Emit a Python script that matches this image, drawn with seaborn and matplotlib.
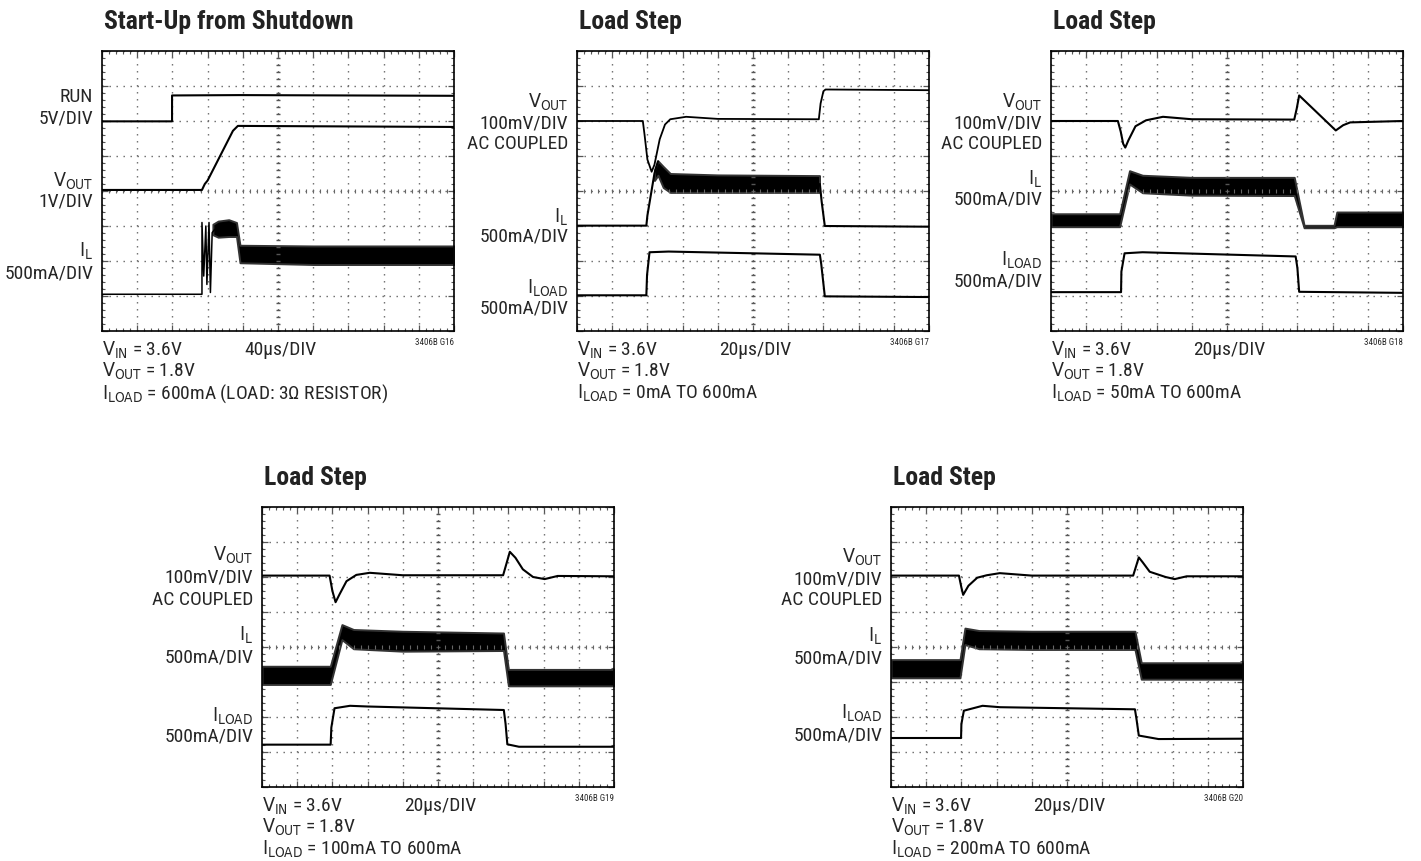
import matplotlib.pyplot as plt
import seaborn as sns
import pandas as pd
import numpy as np

# ---- data (scope divisions: x 0..10, y 0..8 from bottom) ----
titles = ["Start-Up from Shutdown", "Load Step", "Load Step", "Load Step", "Load Step"]
time_div = ["40\u03bcs/DIV", "20\u03bcs/DIV", "20\u03bcs/DIV", "20\u03bcs/DIV", "20\u03bcs/DIV"]
fig_ids = ["3406B G16", "3406B G17", "3406B G18", "3406B G19", "3406B G20"]
iload_text = ["600mA (LOAD: 3\u03a9 RESISTOR)", "0mA TO 600mA", "50mA TO 600mA",
              "100mA TO 600mA", "200mA TO 600mA"]

# panel 1 : start-up
p1_run = [(0, 5.99), (1.99, 5.99), (1.99, 6.73), (3.9, 6.74), (10, 6.72)]
p1_vout = [(0, 4.03), (2.84, 4.03), (2.92, 4.2), (3.0, 4.3), (3.72, 5.72), (3.86, 5.86), (10, 5.83)]
p1_il = [(0, 1.05), (2.84, 1.05), (2.84, 3.1), (2.89, 1.57), (2.95, 3.0), (2.98, 1.33),
         (3.04, 3.1), (3.08, 1.1), (3.13, 2.81), (3.2, 2.9)]
p1_il_band = [(3.15, 2.75, 3.05), (3.3, 2.68, 3.14), (3.6, 2.7, 3.18), (3.82, 2.7, 3.1),
              (3.92, 1.95, 2.45), (6.0, 1.9, 2.43), (10, 1.9, 2.43)]
p1_labels = [("RUN", 6.71), ("5V/DIV", 6.1), (r"$\mathrm{V_{OUT}}$", 4.3), ("1V/DIV", 3.73),
             (r"$\mathrm{I_{L}}$", 2.3), ("500mA/DIV", 1.67)]

# panel 2 : 0mA -> 600mA
p2_vout = [(0, 6.0), (1.87, 6.0), (1.92, 5.6), (2.0, 4.9), (2.12, 4.55), (2.2, 4.75), (2.35, 5.48),
           (2.5, 5.9), (2.65, 6.05), (3.1, 6.12), (4.0, 6.06), (6.87, 6.05), (6.92, 6.5),
           (7.0, 6.85), (7.06, 6.9), (10, 6.88)]
p2_il_rise = [(0, 3.01), (1.97, 3.01), (2.0, 3.3), (2.1, 3.9), (2.2, 4.5), (2.3, 4.85)]
p2_il_fall = [(6.9, 4.2), (6.95, 3.7), (7.04, 3.0), (10, 2.98)]
p2_il_band = [(2.2, 4.3, 4.6), (2.3, 4.45, 4.86), (2.45, 4.1, 4.7), (2.65, 3.96, 4.5),
              (4.0, 3.96, 4.46), (6.89, 3.96, 4.44)]
p2_iload = [(0, 1.02), (1.97, 1.02), (1.99, 1.6), (2.06, 2.25), (2.6, 2.27), (6.9, 2.18),
            (6.94, 1.9), (7.04, 0.99), (10, 0.97)]
p2_labels = [(r"$\mathrm{V_{OUT}}$", 6.55), ("100mV/DIV", 5.96), ("AC COUPLED", 5.37),
             (r"$\mathrm{I_{L}}$", 3.27), ("500mA/DIV", 2.73), (r"$\mathrm{I_{LOAD}}$", 1.24),
             ("500mA/DIV", 0.68)]

# panel 3 : 50mA -> 600mA
p3_vout = [(0, 6.0), (1.9, 6.0), (1.98, 5.7), (2.05, 5.35), (2.11, 5.24), (2.2, 5.45), (2.4, 5.85),
           (2.7, 6.02), (3.18, 6.12), (4.0, 6.05), (6.91, 6.04), (6.98, 6.35), (7.05, 6.73),
           (8.09, 5.73), (8.3, 5.88), (8.5, 5.96), (10, 6.0)]
p3_il_band = [(0, 2.98, 3.35), (1.95, 2.98, 3.35), (2.23, 4.2, 4.58), (2.6, 3.95, 4.45),
              (4.0, 3.88, 4.39), (6.91, 3.87, 4.39), (7.19, 2.95, 3.02), (8.04, 2.95, 3.02),
              (8.12, 2.98, 3.4), (10, 2.98, 3.4)]
p3_iload = [(0, 1.11), (1.99, 1.11), (2.0, 1.7), (2.09, 2.22), (2.6, 2.25), (6.95, 2.13),
            (7.0, 1.8), (7.05, 1.12), (10, 1.09)]
p3_labels = [(r"$\mathrm{V_{OUT}}$", 6.57), ("100mV/DIV", 5.95), ("AC COUPLED", 5.37),
             (r"$\mathrm{I_{L}}$", 4.37), ("500mA/DIV", 3.78), (r"$\mathrm{I_{LOAD}}$", 2.05),
             ("500mA/DIV", 1.45)]

# panel 4 : 100mA -> 600mA
p4_vout = [(0, 6.04), (1.92, 6.04), (2.0, 5.6), (2.09, 5.28), (2.2, 5.5), (2.4, 5.88),
           (2.68, 6.06), (3.06, 6.12), (4.0, 6.05), (6.85, 6.05), (6.95, 6.4), (7.04, 6.72),
           (7.2, 6.55), (7.41, 6.22), (7.7, 6.0), (8.03, 5.94), (8.4, 6.03), (10, 6.02)]
p4_il_band = [(0, 2.93, 3.45), (1.94, 2.93, 3.45), (2.27, 4.21, 4.64), (2.6, 3.95, 4.5),
              (4.0, 3.88, 4.45), (6.86, 3.9, 4.4), (7.0, 2.89, 3.36), (10, 2.89, 3.36)]
p4_iload = [(0, 1.21), (1.95, 1.21), (1.97, 1.7), (2.06, 2.25), (2.5, 2.32), (3.0, 2.3),
            (6.87, 2.2), (6.92, 1.8), (6.97, 1.22), (7.3, 1.15), (10, 1.15)]
p4_labels = [(r"$\mathrm{V_{OUT}}$", 6.65), ("100mV/DIV", 6.0), ("AC COUPLED", 5.38),
             (r"$\mathrm{I_{L}}$", 4.37), ("500mA/DIV", 3.74), (r"$\mathrm{I_{LOAD}}$", 2.05),
             ("500mA/DIV", 1.47)]

# panel 5 : 200mA -> 600mA
p5_vout = [(0, 6.04), (1.93, 6.04), (2.0, 5.7), (2.05, 5.49), (2.2, 5.75), (2.45, 5.98),
           (2.72, 6.05), (3.09, 6.11), (4.0, 6.04), (6.88, 6.04), (6.96, 6.3), (7.04, 6.56),
           (7.15, 6.42), (7.35, 6.15), (7.8, 6.0), (8.06, 5.94), (8.4, 6.02), (10, 6.02)]
p5_il_band = [(0, 3.12, 3.64), (1.96, 3.12, 3.64), (2.1, 4.07, 4.54), (2.5, 3.95, 4.47),
              (4.0, 3.93, 4.45), (6.93, 3.93, 4.45), (7.11, 3.08, 3.55), (10, 3.08, 3.55)]
p5_iload = [(0, 1.4), (1.99, 1.4), (2.0, 1.8), (2.07, 2.18), (2.6, 2.32), (3.1, 2.28),
            (6.93, 2.22), (6.98, 1.9), (7.04, 1.47), (7.6, 1.37), (10, 1.38)]
p5_labels = [(r"$\mathrm{V_{OUT}}$", 6.58), ("100mV/DIV", 5.96), ("AC COUPLED", 5.38),
             (r"$\mathrm{I_{L}}$", 4.33), ("500mA/DIV", 3.69), (r"$\mathrm{I_{LOAD}}$", 2.12),
             ("500mA/DIV", 1.51)]

# ---- style ----
sns.set_style("white")
plt.rcParams['font.family'] = ['Roboto Condensed', 'Liberation Sans Narrow', 'DejaVu Sans']
plt.rcParams['font.stretch'] = 'condensed'
plt.rcParams['mathtext.fontset'] = 'custom'
plt.rcParams['mathtext.rm'] = 'DejaVu Sans:stretch=condensed'
plt.rcParams['mathtext.it'] = 'DejaVu Sans:stretch=condensed'
plt.rcParams['mathtext.bf'] = 'DejaVu Sans:bold:stretch=condensed'
plt.rcParams['lines.scale_dashes'] = False

W, H = 1421, 862
fig = plt.figure(figsize=(W / 100, H / 100), dpi=100)

# frame left/top in pixels
frames = [(102, 52), (577, 52), (1051, 52), (262, 508), (891, 508)]
FW, FH = 352, 280


def scope_axes(left, top):
    ax = fig.add_axes([left / W, 1 - (top + FH) / H, FW / W, FH / H])
    ax.set_xlim(0, 10)
    ax.set_ylim(0, 8)
    ax.set_xticks(np.arange(0, 11, 1))
    ax.set_yticks(np.arange(0, 9, 1))
    ax.set_xticks(np.arange(0, 10.01, 0.2), minor=True)
    ax.set_yticks(np.arange(0, 8.01, 0.2), minor=True)
    ax.tick_params(which='both', direction='in', top=True, right=True, bottom=True, left=True,
                   labelbottom=False, labelleft=False, color='#555555')
    ax.tick_params(which='major', length=4, width=0.9)
    ax.tick_params(which='minor', length=2.5, width=0.8)
    ax.grid(True, which='major', color='#666666', lw=1.0, linestyle=(0, (1.0, 4.04)))
    for s in ax.spines.values():
        s.set_color('black')
        s.set_linewidth(1.2)
    # centre cross with graduation marks
    ax.plot(np.full(41, 5.0), np.arange(0, 8.01, 0.2), ls='none', marker='_', ms=3.5,
            mew=1.0, color='#555555')
    ax.plot(np.arange(0, 10.01, 0.2), np.full(51, 4.0), ls='none', marker='|', ms=3.5,
            mew=0.8, color='#666666')
    return ax


def trace(ax, pts, lw=1.5):
    df = pd.DataFrame(pts, columns=['t', 'v'])
    sns.lineplot(data=df, x='t', y='v', ax=ax, estimator=None, sort=False,
                 color='black', lw=lw)


def band(ax, pts):
    df = pd.DataFrame(pts, columns=['t', 'lo', 'hi'])
    ax.fill_between(df['t'], df['lo'], df['hi'], facecolor='black', edgecolor='#333333', lw=1.4)


def decorate(ax, i, labels):
    for txt, y in labels:
        ax.text(-0.25, y, txt, ha='right', va='center', fontsize=14, clip_on=False)
    ax.text(0.05, 8.86, titles[i], ha='left', va='center', fontsize=18.5, fontweight='bold',
            color='#222222', clip_on=False)
    ax.text(0, -0.52, r"$\mathrm{V_{IN}}$ = 3.6V", ha='left', va='center', fontsize=14,
            clip_on=False)
    ax.text(4.05, -0.52, time_div[i], ha='left', va='center', fontsize=14, clip_on=False)
    ax.text(10, -0.3, fig_ids[i], ha='right', va='center', fontsize=6.5, clip_on=False)
    ax.text(0, -1.13, r"$\mathrm{V_{OUT}}$ = 1.8V", ha='left', va='center', fontsize=14,
            clip_on=False)
    ax.text(0, -1.75, r"$\mathrm{I_{LOAD}}$ = " + iload_text[i], ha='left', va='center',
            fontsize=14, clip_on=False)


axes = [scope_axes(l, t) for l, t in frames]

ax = axes[0]
trace(ax, p1_run)
trace(ax, p1_vout)
trace(ax, p1_il, lw=1.1)
band(ax, p1_il_band)
decorate(ax, 0, p1_labels)

ax = axes[1]
trace(ax, p2_vout, lw=1.3)
trace(ax, p2_il_rise)
trace(ax, p2_il_fall)
band(ax, p2_il_band)
trace(ax, p2_iload)
decorate(ax, 1, p2_labels)

ax = axes[2]
trace(ax, p3_vout)
band(ax, p3_il_band)
trace(ax, p3_iload)
decorate(ax, 2, p3_labels)

ax = axes[3]
trace(ax, p4_vout)
band(ax, p4_il_band)
trace(ax, p4_iload)
decorate(ax, 3, p4_labels)

ax = axes[4]
trace(ax, p5_vout)
band(ax, p5_il_band)
trace(ax, p5_iload)
decorate(ax, 4, p5_labels)

for ax in axes:
    ax.set_xlim(0, 10)
    ax.set_ylim(0, 8)
    ax.set_xlabel('')
    ax.set_ylabel('')

fig.savefig('out.png', dpi=100)
